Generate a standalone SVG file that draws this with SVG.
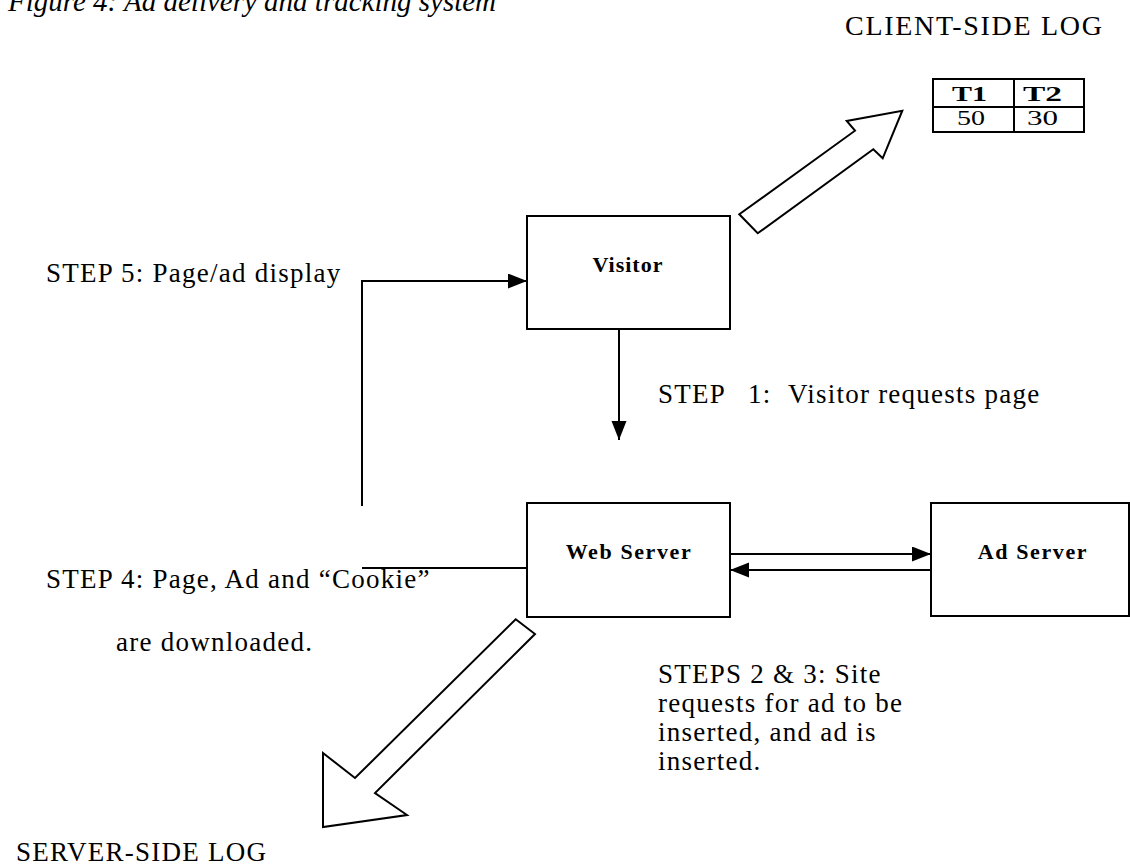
<svg xmlns="http://www.w3.org/2000/svg" width="1130" height="868" viewBox="0 0 1130 868">
<defs>
<style>
.t{font-family:"Liberation Serif","Times New Roman",serif;fill:#000}
.lbl{font-size:27px;letter-spacing:1.25px}
.node{fill:#fff;stroke:#000;stroke-width:2}
.bold{font-weight:bold;font-size:22px}
.con{fill:none;stroke:#000;stroke-width:2}
.hollow{fill:#fff;stroke:#000;stroke-width:2;stroke-linejoin:miter}
</style>
<marker id="ah" markerUnits="userSpaceOnUse" markerWidth="20" markerHeight="16" refX="19" refY="7.5" orient="auto">
<path d="M0,0 L19,7.5 L0,15 z" fill="#000"/>
</marker>
</defs>
<rect width="1130" height="868" fill="#fff"/>

<text class="t" x="8" y="11" font-size="29" font-style="italic">Figure 4: Ad delivery and tracking system</text>
<text class="t" x="845" y="35" font-size="28" letter-spacing="1.7">CLIENT-SIDE LOG</text>

<g id="client-log">
<rect x="933" y="79" width="151" height="53" fill="#fff" stroke="#000" stroke-width="2"/>
<line x1="933" y1="107" x2="1084" y2="107" stroke="#000" stroke-width="2"/>
<line x1="1014" y1="79" x2="1014" y2="132" stroke="#000" stroke-width="2"/>
<text class="t" x="952" y="100.5" font-size="20" font-weight="bold" textLength="35" lengthAdjust="spacingAndGlyphs">T1</text>
<text class="t" x="1023" y="100.5" font-size="20" font-weight="bold" textLength="39" lengthAdjust="spacingAndGlyphs">T2</text>
<text class="t" x="957" y="125" font-size="20" textLength="28" lengthAdjust="spacingAndGlyphs">50</text>
<text class="t" x="1027" y="125" font-size="20" textLength="31" lengthAdjust="spacingAndGlyphs">30</text>
</g>

<g id="visitor">
<rect class="node" x="527" y="216" width="203" height="113"/>
<text class="t bold" x="628" y="272" text-anchor="middle" letter-spacing="1">Visitor</text>
</g>

<g id="web-server">
<rect class="node" x="527" y="503" width="203" height="114"/>
<text class="t bold" x="629" y="559" text-anchor="middle" letter-spacing="1.6">Web Server</text>
</g>

<g id="ad-server">
<rect class="node" x="931" y="503" width="198" height="113"/>
<text class="t bold" x="1033" y="559" text-anchor="middle" letter-spacing="1.6">Ad Server</text>
</g>

<g id="connectors">
<path class="con" d="M362,506 V281 H527" marker-end="url(#ah)"/>
<path class="con" d="M619,329 V440" marker-end="url(#ah)"/>
<path class="con" d="M362,568 H527"/>
<path class="con" d="M730,554 H931" marker-end="url(#ah)"/>
<path class="con" d="M931,570 H730" marker-end="url(#ah)"/>
<polygon class="hollow" points="739.3,214.3 855,130.7 846.7,121 902.3,110.7 882.7,158.3 873.3,149.3 757.7,233.3"/>
<polygon class="hollow" points="515.7,619.3 535,634 375,793 407,815 323,827 323,753 355,778"/>
</g>

<g id="labels">
<text class="t lbl" x="46" y="282">STEP 5: Page/ad display</text>
<text class="t lbl" y="403"><tspan x="658">STEP</tspan><tspan x="748">1:</tspan><tspan x="788">Visitor requests page</tspan></text>
<text class="t lbl" x="46" y="588">STEP 4: Page, Ad and “Cookie”</text>
<text class="t lbl" x="116" y="651">are downloaded.</text>
<text class="t lbl" x="658" y="683">STEPS 2 &amp; 3: Site</text>
<text class="t lbl" x="658" y="712">requests for ad to be</text>
<text class="t lbl" x="658" y="741">inserted, and ad is</text>
<text class="t lbl" x="658" y="770">inserted.</text>
<text class="t lbl" x="16" y="861" letter-spacing="2">SERVER-SIDE LOG</text>
</g>
</svg>
